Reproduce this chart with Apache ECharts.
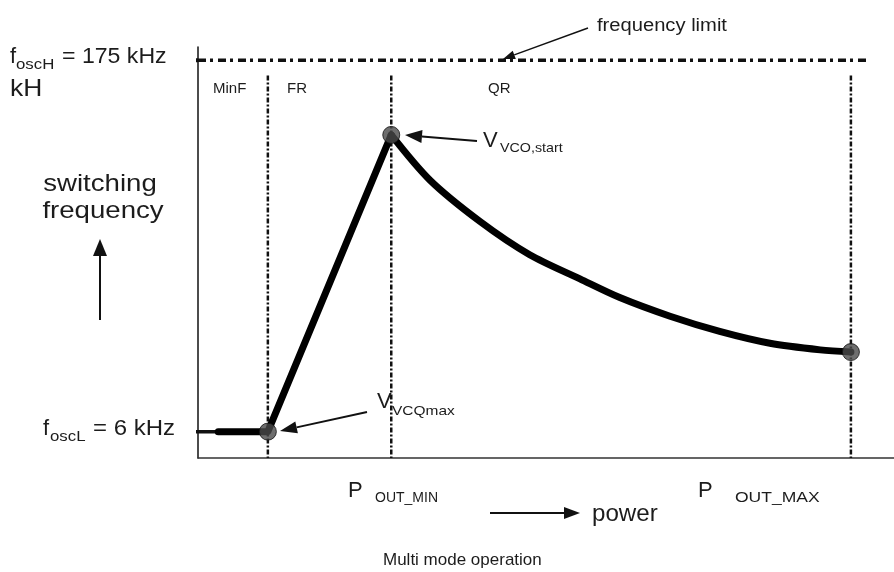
<!DOCTYPE html>
<html><head><meta charset="utf-8">
<script src="https://cdn.jsdelivr.net/npm/echarts@6/dist/echarts.min.js"></script>
<style>html,body{margin:0;padding:0;background:#fff}#c{width:894px;height:572px}</style>
</head><body><div id="c"></div>
<script>
// x: output power (% of P_OUT_MAX), y: switching frequency (kHz)
const powerRise = [3.1, 10.7, 29.6];
const freqRise  = [6, 6, 141];
const powerQR = [29.6, 35.5, 43.2, 50.8, 58.5, 64.6, 72.3, 79.9, 87.6, 95.3, 100];
const freqQR  = [141, 120.5, 101.6, 86.5, 75.5, 67.0, 58.5, 51.6, 46.2, 43.2, 42.2];
const keyPower = [10.7, 29.6, 100];   // MinF/FR boundary, P_OUT_MIN, P_OUT_MAX
const keyFreq  = [6, 141, 42.2];
const fOscL = 6, fOscH = 175;
const regionLabels = ['MinF', 'FR', 'QR'];

const FONT = '"Liberation Sans", Arial, Helvetica, sans-serif';
const INK = '#1c1c1c';
const pairs = (xs, ys) => xs.map((x, i) => [x, ys[i]]);

function txt(x, y, text, size, o) {
  o = o || {};
  return {
    type: 'text', x: x, y: y, scaleX: o.sx || 1, z: 100,
    style: { text: text, fontSize: size, fontFamily: FONT, fill: INK,
             align: o.align || 'left', verticalAlign: 'middle' }
  };
}
function arrow(x1, y1, x2, y2, len, w, lw) {
  const dx = x2 - x1, dy = y2 - y1, d = Math.hypot(dx, dy);
  const ux = dx / d, uy = dy / d, bx = x2 - ux * len, by = y2 - uy * len;
  const px = -uy * w / 2, py = ux * w / 2;
  return [
    { type: 'line', z: 100, shape: { x1: x1, y1: y1, x2: bx, y2: by },
      style: { stroke: '#111', lineWidth: lw || 1.5 } },
    { type: 'polygon', z: 100, shape: { points: [[x2, y2], [bx + px, by + py], [bx - px, by - py]] },
      style: { fill: '#111' } }
  ];
}

const base = { type: 'line', symbol: 'none', clip: false, silent: true };
const dashDot = [5, 2, 2, 2];
const series = [
  Object.assign({}, base, { data: [[-2.45, fOscH], [0, fOscH]], lineStyle: { color: '#111', width: 4 } }),
  Object.assign({}, base, { data: [[0, fOscH], [102.9, fOscH]], lineStyle: { color: '#111', width: 3.5, type: [8, 4, 3, 5] } }),
  Object.assign({}, base, { data: [[-2.3, fOscL], [powerRise[0], fOscL]], lineStyle: { color: '#111', width: 3.5 } })
];
keyPower.forEach(function (p) {
  series.push(Object.assign({}, base, { data: [[p, 168], [p, -6]], z: 1,
    lineStyle: { color: '#111', width: 2.5, type: dashDot } }));
});
series.push(Object.assign({}, base, { data: pairs(powerRise, freqRise), z: 3,
  lineStyle: { color: '#000', width: 7, cap: 'round', join: 'round' } }));
series.push(Object.assign({}, base, { data: pairs(powerQR, freqQR), smooth: 0.3, z: 3,
  lineStyle: { color: '#000', width: 7, cap: 'round', join: 'round' } }));
series.push({ type: 'scatter', data: pairs(keyPower, keyFreq), symbolSize: 17, z: 5, silent: true,
  itemStyle: { color: '#4a4a4a', borderColor: '#111', borderWidth: 1 } });

let graphic = [
  txt(10, 57, 'f', 22), txt(16, 65, 'oscH', 14, { sx: 1.2 }), txt(62, 57, '= 175 kHz', 22, { sx: 1.05 }),
  txt(10, 89, 'kH', 24, { sx: 1.1 }),
  txt(100, 184, 'switching', 24, { sx: 1.15, align: 'center' }),
  txt(103, 211, 'frequency', 24, { sx: 1.15, align: 'center' }),
  txt(43, 429, 'f', 22), txt(50, 437, 'oscL', 14, { sx: 1.2 }), txt(93, 429, '= 6 kHz', 22, { sx: 1.09 }),
  txt(213, 89, regionLabels[0], 15), txt(287, 89, regionLabels[1], 15), txt(488, 89, regionLabels[2], 15),
  txt(597, 26, 'frequency limit', 18, { sx: 1.12 }),
  txt(483, 141, 'V', 22), txt(500, 148, 'VCO,start', 13, { sx: 1.1 }),
  txt(377, 402, 'V', 22), txt(392, 411, 'VCQmax', 13, { sx: 1.19 }),
  txt(348, 491, 'P', 22), txt(375, 498, 'OUT_MIN', 14),
  txt(698, 491, 'P', 22), txt(735, 498, 'OUT_MAX', 14, { sx: 1.25 }),
  txt(592, 515, 'power', 23, { sx: 1.05 }),
  txt(383, 560, 'Multi mode operation', 17)
];
graphic = graphic
  .concat(arrow(588, 28, 503, 59, 12, 9, 1.5))
  .concat(arrow(477, 141, 405, 135, 17, 13, 2))
  .concat(arrow(367, 412, 280, 431, 17, 12, 2))
  .concat(arrow(100, 320, 100, 239, 17, 14, 2))
  .concat(arrow(490, 513, 580, 513, 16, 12, 2));

const chart = echarts.init(document.getElementById('c'));
chart.setOption({
  animation: false,
  backgroundColor: '#fff',
  grid: { left: 198, right: 0, top: 47, bottom: 114, containLabel: false },
  xAxis: { type: 'value', min: 0, max: 106.6,
    axisLine: { show: true, onZero: false, lineStyle: { color: '#333', width: 1.5 } },
    axisTick: { show: false }, axisLabel: { show: false }, splitLine: { show: false } },
  yAxis: { type: 'value', min: -6, max: 181,
    axisLine: { show: true, onZero: false, lineStyle: { color: '#111', width: 1.5 } },
    axisTick: { show: false }, axisLabel: { show: false }, splitLine: { show: false } },
  series: series,
  graphic: graphic
});
</script></body></html>
